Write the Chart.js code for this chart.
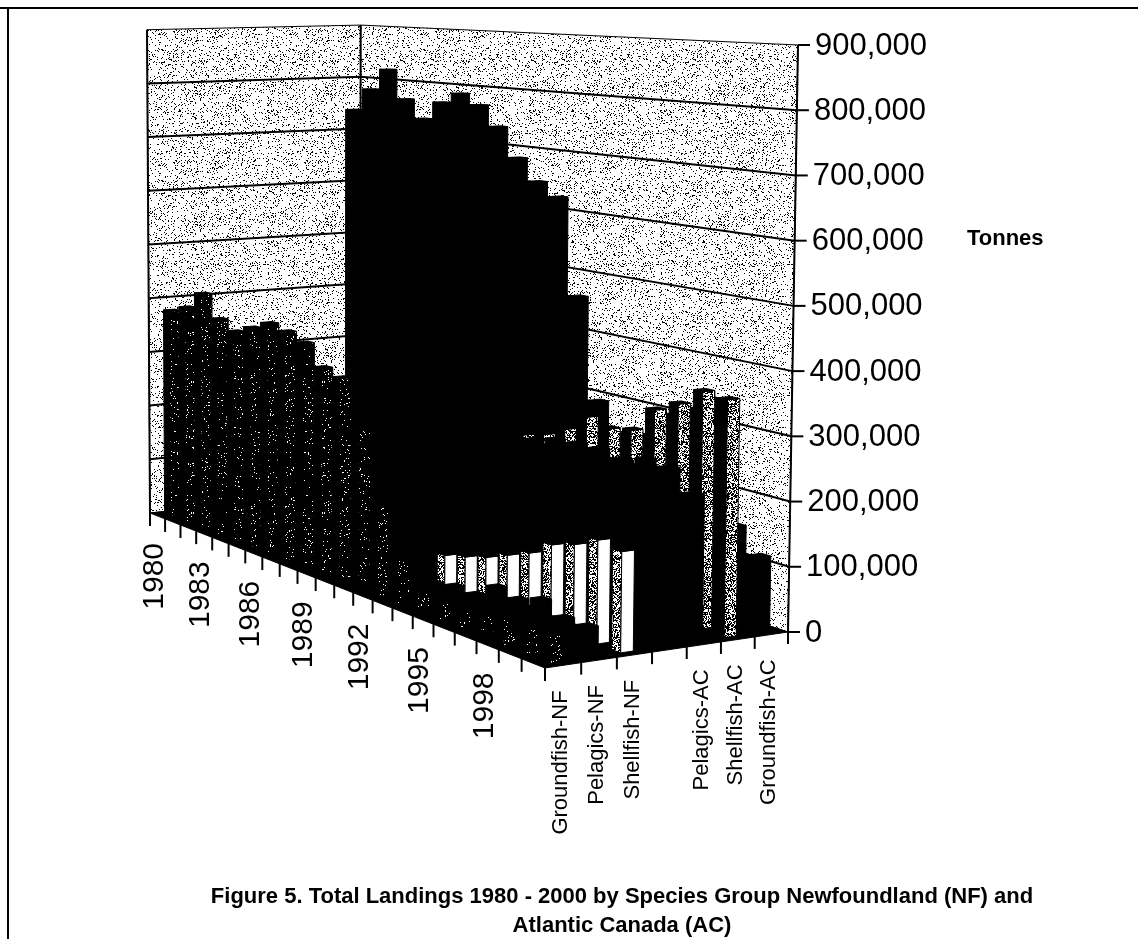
<!DOCTYPE html>
<html>
<head>
<meta charset="utf-8">
<title>Figure 5</title>
<style>
  html, body { margin: 0; padding: 0; background: #fff; }
  canvas { display: block; }
</style>
<script src="https://cdn.jsdelivr.net/npm/chart.js@4/dist/chart.umd.js"></script>
</head>
<body>
<canvas id="chart" width="1138" height="939"></canvas>
<script>
const years = ["1980","1981","1982","1983","1984","1985","1986","1987","1988","1989","1990",
  "1991","1992","1993","1994","1995","1996","1997","1998","1999","2000"];
const seriesLabels = ["Groundfish-NF","Pelagics-NF","Shellfish-NF","","Pelagics-AC","Shellfish-AC","Groundfish-AC"];
const yearLabelEvery = 3;

// tonnes
const groundfishNF = [379000,392000,424000,385000,370000,384000,399000,392000,380000,346000,337000,
  262000,144000,70000,30000,25000,25000,30000,40000,40000,40000];
const pelagicsNF = [35000,30000,25000,20000,25000,30000,35000,40000,40000,35000,30000,
  25000,20000,25000,32000,31000,55000,48000,60000,45000,45000];
const shellfishNF = [25000,28000,30000,30000,32000,35000,38000,40000,42000,45000,48000,
  50000,53000,62000,73000,88000,103000,127000,139000,157000,151000];
const emptySlot = years.map(() => null);
const pelagicsAC = [230000,235000,240000,225000,215000,235000,250000,240000,255000,250000,235000,
  245000,235000,240000,250000,253000,254000,247000,257000,253000,223000];
const shellfishAC = [120000,125000,130000,140000,150000,150000,155000,160000,170000,190000,210000,
  225000,235000,253000,282000,272000,279000,320000,338000,366000,362000];
const groundfishAC = [739000,781000,821000,768000,735000,768000,787000,769000,734000,683000,646000,
  624000,461000,293000,190000,170000,165000,160000,155000,151000,115000];

const FONT = '"Liberation Sans", Arial, sans-serif';

// floor corners on screen: year 0/last, first/last series
const P00 = {x:150, y:513}, P10 = {x:545, y:668}, P11 = {x:788, y:632}, P01 = {x:360, y:490};
const BAR_U = 0.38, BAR_V = 0.36;
const LEAN_X = 320, LEAN = 3.64e-5;

const sx = P00.x - P10.x + P11.x - P01.x, sy = P00.y - P10.y + P11.y - P01.y;
const dx1 = P10.x - P11.x, dy1 = P10.y - P11.y, dx2 = P01.x - P11.x, dy2 = P01.y - P11.y;
const det = dx1 * dy2 - dx2 * dy1;
const G = (sx * dy2 - dx2 * sy) / det, H = (dx1 * sy - sx * dy1) / det;
const W_BACK = G + H + 1;

function project(chart, u, v, value) {
  const w = G * u + H * v + 1;
  const fx = (P00.x + (P10.x * (G + 1) - P00.x) * u + (P01.x * (H + 1) - P00.x) * v) / w;
  const fy = (P00.y + (P10.y * (G + 1) - P00.y) * u + (P01.y * (H + 1) - P00.y) * v) / w;
  const yScale = chart.scales.y;
  const h = (yScale.getPixelForValue(0) - yScale.getPixelForValue(value)) * W_BACK / w * (0.987 + 0.013 * u);
  return {x: fx + (fx - LEAN_X) * LEAN * h, y: fy - h};
}

function makeStipple(density) {
  const tile = document.createElement("canvas");
  tile.width = tile.height = 131;
  const c = tile.getContext("2d");
  c.fillStyle = "#fff";
  c.fillRect(0, 0, 131, 131);
  c.fillStyle = "#000";
  let seed = 12345;
  for (let py = 0; py < 131; py++) {
    for (let px = 0; px < 131; px++) {
      seed = (seed * 1103515245 + 12345) & 0x7fffffff;
      if ((seed >> 8) % 1000 < density * 1000) c.fillRect(px, py, 1, 1);
    }
  }
  return document.getElementById("chart").getContext("2d").createPattern(tile, "repeat");
}
const wallFill = makeStipple(0.12);
const midFill = makeStipple(0.5);
const darkFill = makeStipple(0.95);

function polygon(ctx, pts, fill) {
  ctx.beginPath();
  pts.forEach((p, i) => i ? ctx.lineTo(p.x, p.y) : ctx.moveTo(p.x, p.y));
  ctx.closePath();
  ctx.fillStyle = fill;
  ctx.fill();
  ctx.strokeStyle = "#000";
  ctx.lineWidth = 1;
  ctx.stroke();
}

class Box3dController extends Chart.BarController {
  draw() {
    const chart = this.chart, ctx = chart.ctx;
    const ds = this.getDataset();
    const k = this.index, n = years.length, m = seriesLabels.length;
    const v = (k + 0.5) / m;
    const v0 = v - BAR_V / 2 / m, v1 = v + BAR_V / 2 / m;

    // solid rows: black filler closes the slit up to the lower of two neighbours
    if (ds.solid) {
      ds.data.forEach((val, i) => {
        if (!i) return;
        const low = Math.min(val, ds.data[i - 1]);
        const u1 = (i + 0.5 + BAR_U / 2) / n, u0 = u1 - 1 / n;
        polygon(ctx, [project(chart, u0, v0, 0), project(chart, u1, v0, 0),
          project(chart, u1, v0, low), project(chart, u0, v0, low)], "#000");
      });
    }

    ds.data.forEach((val, i) => {
      if (val === null) return;
      const u0 = (i + 0.5 - BAR_U / 2) / n, u1 = (i + 0.5 + BAR_U / 2) / n;
      const a = project(chart, u0, v0, 0), b = project(chart, u1, v0, 0), c = project(chart, u1, v1, 0);
      const at = project(chart, u0, v0, val), bt = project(chart, u1, v0, val);
      const ct = project(chart, u1, v1, val), dt = project(chart, u0, v1, val);
      const lit = i >= (ds.litFrom || 0);
      polygon(ctx, [a, b, bt, at], lit ? ds.leftFace : "#000");
      polygon(ctx, [b, c, ct, bt], lit ? ds.rightFace : "#000");
      polygon(ctx, [at, bt, ct, dt], "#000");
    });
  }
}
Box3dController.id = "box3d";
Box3dController.defaults = {};
Box3dController.overrides = Chart.BarController.overrides;
Chart.register(Box3dController);

const wallsPlugin = {
  id: "walls",
  beforeDatasetsDraw(chart) {
    const ctx = chart.ctx, yScale = chart.scales.y;
    const top = yScale.max;
    const l0 = project(chart, 0, 0, 0), lt = project(chart, 0, 0, top);
    const b0 = project(chart, 0, 1, 0), bt = project(chart, 0, 1, top);
    const r0 = project(chart, 1, 1, 0), rt = project(chart, 1, 1, top);
    const f0 = project(chart, 1, 0, 0);

    ctx.save();
    polygon(ctx, [l0, lt, bt, b0], wallFill);
    polygon(ctx, [b0, bt, rt, r0], wallFill);
    polygon(ctx, [l0, f0, r0, b0], "#000");

    ctx.strokeStyle = "#000";
    ctx.lineWidth = 2;
    yScale.ticks.forEach(t => {
      if (t.value === 0 || t.value === top) return;
      const a = project(chart, 0, 0, t.value), b = project(chart, 0, 1, t.value), c = project(chart, 1, 1, t.value);
      ctx.beginPath();
      ctx.moveTo(a.x, a.y);
      ctx.lineTo(b.x, b.y);
      ctx.lineTo(c.x, c.y);
      ctx.stroke();
    });
    [[l0, lt], [b0, bt]].forEach(e => {
      ctx.beginPath();
      ctx.moveTo(e[0].x, e[0].y);
      ctx.lineTo(e[1].x, e[1].y);
      ctx.stroke();
    });
    ctx.restore();
  },
  afterDraw(chart) {
    const ctx = chart.ctx, yScale = chart.scales.y;
    const n = years.length, m = seriesLabels.length;
    ctx.save();
    ctx.strokeStyle = "#000";
    ctx.fillStyle = "#000";
    ctx.lineWidth = 2;

    // page frame, top and left only
    ctx.beginPath();
    ctx.moveTo(0, 8); ctx.lineTo(1138, 8);
    ctx.moveTo(8, 8); ctx.lineTo(8, 939);
    ctx.stroke();

    // tonnes axis, it leans with the perspective
    const a0 = project(chart, 1, 1, 0), a1 = project(chart, 1, 1, yScale.max);
    ctx.beginPath();
    ctx.moveTo(a0.x, a0.y); ctx.lineTo(a1.x, a1.y);
    ctx.stroke();
    ctx.font = "31px " + FONT;
    ctx.textAlign = "left";
    ctx.textBaseline = "middle";
    yScale.ticks.forEach(t => {
      const p = project(chart, 1, 1, t.value);
      ctx.beginPath();
      ctx.moveTo(p.x, p.y); ctx.lineTo(p.x + 12, p.y);
      ctx.stroke();
      ctx.fillText(t.label, p.x + 17, p.y + 1);
    });

    // floor ticks
    for (let i = 0; i <= n; i++) {
      const p = project(chart, i / n, 0, 0);
      ctx.beginPath();
      ctx.moveTo(p.x, p.y); ctx.lineTo(p.x, p.y + 13);
      ctx.stroke();
    }
    for (let k = 0; k <= m; k++) {
      const p = project(chart, 1, k / m, 0);
      ctx.beginPath();
      ctx.moveTo(p.x, p.y); ctx.lineTo(p.x, p.y + 12);
      ctx.stroke();
    }

    // rotated category labels
    function upright(text, x, y, font) {
      ctx.save();
      ctx.translate(x, y);
      ctx.rotate(-Math.PI / 2);
      ctx.font = font;
      ctx.textAlign = "right";
      ctx.textBaseline = "middle";
      ctx.fillText(text, 0, 0);
      ctx.restore();
    }
    years.forEach((yr, i) => {
      if (i % yearLabelEvery) return;
      const p = project(chart, (i + 0.5) / n, 0, 0);
      upright(yr, p.x - 3, p.y + 27, "30px " + FONT);
    });
    seriesLabels.forEach((s, k) => {
      if (!s) return;
      const p = project(chart, 1, (k + 0.5) / m, 0);
      upright(s, p.x - 2, p.y + 25, "22px " + FONT);
    });

    ctx.textBaseline = "middle";
    ctx.textAlign = "left";
    ctx.font = "bold 22px " + FONT;
    ctx.fillText("Tonnes", 967, 239);
    ctx.textAlign = "center";
    ctx.fillText("Figure 5. Total Landings 1980 - 2000 by Species Group Newfoundland (NF) and", 622, 897);
    ctx.fillText("Atlantic Canada (AC)", 622, 926);
    ctx.restore();
  }
};

new Chart(document.getElementById("chart"), {
  type: "box3d",
  data: {
    labels: years,
    datasets: [
      {label: seriesLabels[0], data: groundfishNF, leftFace: "#000", rightFace: darkFill, solid: true, clip: false},
      {label: seriesLabels[1], data: pelagicsNF, leftFace: "#000", rightFace: "#000", solid: true, clip: false},
      {label: seriesLabels[2], data: shellfishNF, leftFace: midFill, rightFace: "#fff", litFrom: 12, clip: false},
      {label: seriesLabels[3], data: emptySlot, clip: false},
      {label: seriesLabels[4], data: pelagicsAC, leftFace: "#000", rightFace: "#000", solid: true, clip: false},
      {label: seriesLabels[5], data: shellfishAC, leftFace: "#000", rightFace: midFill, solid: true, clip: false},
      {label: seriesLabels[6], data: groundfishAC, leftFace: "#000", rightFace: "#000", solid: true, clip: false}
    ]
  },
  options: {
    responsive: false,
    animation: false,
    layout: {padding: {top: 45, bottom: 307, left: 0, right: 340}},
    plugins: {legend: {display: false}, tooltip: {enabled: false}},
    scales: {
      x: {type: "category", display: false},
      y: {
        type: "linear",
        position: "right",
        min: 0,
        max: 900000,
        grid: {display: false},
        border: {display: false},
        ticks: {
          display: false,
          stepSize: 100000,
          callback: value => value.toLocaleString("en-US")
        }
      }
    }
  },
  plugins: [wallsPlugin]
});
</script>
</body>
</html>
